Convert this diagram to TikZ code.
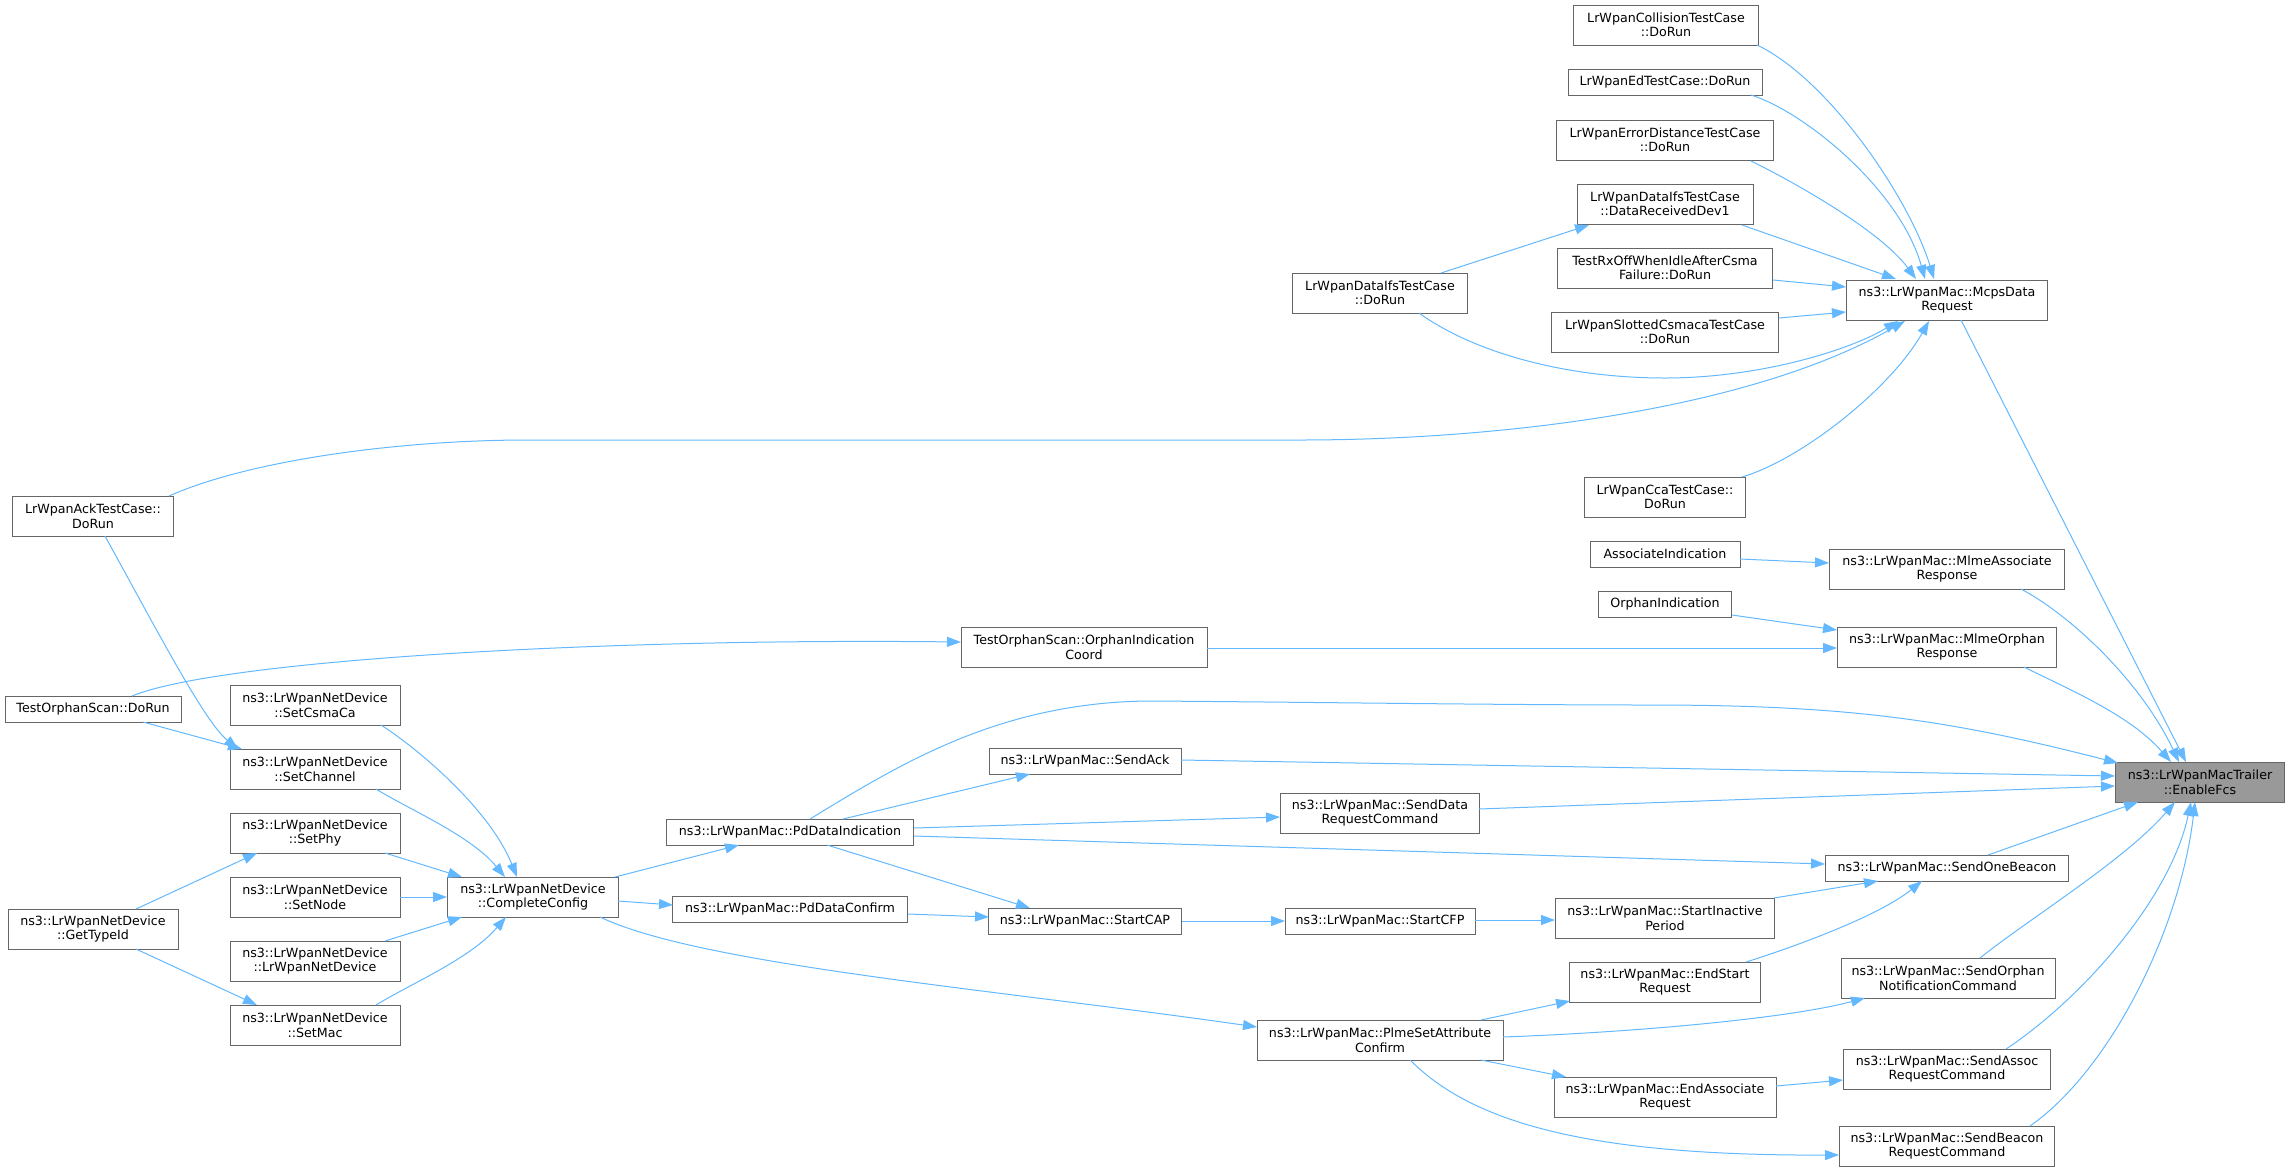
\documentclass[tikz,border=0pt]{standalone}
\usepackage{fontspec}
\newfontfamily\dvs{DejaVu Sans}
\usetikzlibrary{arrows.meta,calc}
\definecolor{edgeblue}{HTML}{63B8FF}
\definecolor{boxgray}{HTML}{666666}
\definecolor{rootfill}{HTML}{999999}
\begin{document}
\begin{tikzpicture}[x=0.75pt,y=-0.75pt,
  box/.style={draw=boxgray,fill=white,line width=0.75pt,align=center,inner sep=0pt,
    font=\dvs\fontsize{9.5}{10.9}\selectfont,minimum height=30pt},
  one/.style={minimum height=19.5pt},
  bw/.style={minimum width=#1*0.75pt},
  root/.style={fill=rootfill},
  cl/.style={draw=edgeblue,line width=0.75pt,-{Triangle[length=10.5pt,width=7.5pt]}}]
\useasboundingbox (0,0) rectangle (2291,1172);
% nodes
\node[box,bw=185] (col) at (1666,25) {LrWpanCollisionTestCase\\::DoRun};
\node[box,one,bw=194] (ed) at (1665,82) {LrWpanEdTestCase::DoRun};
\node[box,bw=217] (errd) at (1665,140) {LrWpanErrorDistanceTestCase\\::DoRun};
\node[box,bw=176] (drd) at (1665,204) {LrWpanDataIfsTestCase\\::DataReceivedDev1};
\node[box,bw=215] (rxoff) at (1665,268) {TestRxOffWhenIdleAfterCsma\\Failure::DoRun};
\node[box,bw=227] (slot) at (1665,332) {LrWpanSlottedCsmacaTestCase\\::DoRun};
\node[box,bw=175] (ifs) at (1380,293) {LrWpanDataIfsTestCase\\::DoRun};
\node[box,bw=201] (mcps) at (1947,300) {ns3::LrWpanMac::McpsData\\Request};
\node[box,bw=161] (cca) at (1665,497) {LrWpanCcaTestCase::\\DoRun};
\node[box,one,bw=150] (assoc) at (1665,554) {AssociateIndication};
\node[box,bw=235] (mlmeA) at (1947,569) {ns3::LrWpanMac::MlmeAssociate\\Response};
\node[box,one,bw=133] (orphI) at (1665,604) {OrphanIndication};
\node[box,bw=219] (mlmeO) at (1947,647) {ns3::LrWpanMac::MlmeOrphan\\Response};
\node[box,bw=246] (coord) at (1084,647) {TestOrphanScan::OrphanIndication\\Coord};
\node[box,bw=161] (ack) at (93,516) {LrWpanAckTestCase::\\DoRun};
\node[box,one,bw=176] (tosd) at (93,709) {TestOrphanScan::DoRun};
\node[box,bw=170] (csma) at (315,705) {ns3::LrWpanNetDevice\\::SetCsmaCa};
\node[box,bw=170] (chan) at (315,769) {ns3::LrWpanNetDevice\\::SetChannel};
\node[box,bw=170] (phy) at (315,833) {ns3::LrWpanNetDevice\\::SetPhy};
\node[box,bw=170] (nod) at (315,897) {ns3::LrWpanNetDevice\\::SetNode};
\node[box,bw=170] (lnd) at (315,961) {ns3::LrWpanNetDevice\\::LrWpanNetDevice};
\node[box,bw=170] (mac) at (315,1025) {ns3::LrWpanNetDevice\\::SetMac};
\node[box,bw=170] (gtid) at (93,929) {ns3::LrWpanNetDevice\\::GetTypeId};
\node[box,bw=171] (cc) at (533,897) {ns3::LrWpanNetDevice\\::CompleteConfig};
\node[box,one,bw=247] (pdi) at (790,832) {ns3::LrWpanMac::PdDataIndication};
\node[box,one,bw=235] (pdc) at (790,909) {ns3::LrWpanMac::PdDataConfirm};
\node[box,one,bw=192] (sack) at (1085,761) {ns3::LrWpanMac::SendAck};
\node[box,one,bw=193] (cap) at (1085,921) {ns3::LrWpanMac::StartCAP};
\node[box,bw=199] (sdr) at (1380,813) {ns3::LrWpanMac::SendData\\RequestCommand};
\node[box,root,bw=169] (fcs) at (2200,782) {ns3::LrWpanMacTrailer\\::EnableFcs};
\node[box,one,bw=243] (sob) at (1947,868) {ns3::LrWpanMac::SendOneBeacon};
\node[box,one,bw=190] (cfp) at (1380,921) {ns3::LrWpanMac::StartCFP};
\node[box,bw=219] (sip) at (1665,918) {ns3::LrWpanMac::StartInactive\\Period};
\node[box,bw=191] (esr) at (1665,982) {ns3::LrWpanMac::EndStart\\Request};
\node[box,bw=214] (son) at (1948,978) {ns3::LrWpanMac::SendOrphan\\NotificationCommand};
\node[box,bw=246] (plme) at (1380,1040) {ns3::LrWpanMac::PlmeSetAttribute\\Confirm};
\node[box,bw=207] (sar) at (1947,1069) {ns3::LrWpanMac::SendAssoc\\RequestCommand};
\node[box,bw=222] (ear) at (1665,1097) {ns3::LrWpanMac::EndAssociate\\Request};
\node[box,bw=215] (sbr) at (1947,1146) {ns3::LrWpanMac::SendBeacon\\RequestCommand};
% edges into McpsDataRequest
\draw[cl] ($(col)+(91,20)$) .. controls (1830,80) and (1910,200) .. ($(mcps)+(-13,-21)$);
\draw[cl] ($(ed)+(86,13)$) .. controls (1805,112) and (1900,190) .. ($(mcps)+(-22,-21)$);
\draw[cl] ($(errd)+(86,21)$) .. controls (1790,180) and (1880,230) .. ($(mcps)+(-31,-21)$);
\draw[cl] ($(drd)+(77,21)$) -- ($(mcps)+(-51,-21)$);
\draw[cl] ($(rxoff)+(108,12)$) -- ($(mcps)+(-101,-13)$);
\draw[cl] ($(slot)+(114,-14)$) -- ($(mcps)+(-101,12)$);
\draw[cl] ($(ifs)+(39,20)$) .. controls (1470,350) and (1560,378) .. (1665,378)
  .. controls (1760,378) and (1850,350) .. ($(mcps)+(-49,21)$);
\draw[cl] ($(ifs)+(61,-20)$) -- ($(drd)+(-76,21)$);
\draw[cl] ($(ack)+(76,-20)$) .. controls (250,460) and (400,440) .. (528,440) -- (1300,440)
  .. controls (1500,440) and (1750,410) .. ($(mcps)+(-42,21)$);
\draw[cl] ($(cca)+(77,-20)$) .. controls (1800,460) and (1890,390) .. ($(mcps)+(-18,21)$);
% Mlme
\draw[cl] ($(assoc)+(75,5)$) -- ($(mlmeA)+(-118,-6)$);
\draw[cl] ($(orphI)+(67,11)$) -- ($(mlmeO)+(-110,-17)$);
\draw[cl] ($(coord)+(123,1)$) -- ($(mlmeO)+(-110,1)$);
\draw[cl] ($(tosd)+(39,-13)$) .. controls (220,660) and (600,638) .. ($(coord)+(-123,-5)$);
% left columns
\draw[cl] ($(tosd)+(50,13)$) -- ($(chan)+(-73,-20)$);
\draw[cl] ($(ack)+(12,20)$) .. controls (160,636) and (205,722) .. ($(chan)+(-77,-20)$);
\draw[cl] ($(gtid)+(43,-20)$) -- ($(phy)+(-58,20)$);
\draw[cl] ($(gtid)+(43,20)$) -- ($(mac)+(-58,-20)$);
\draw[cl] ($(csma)+(66,20)$) .. controls (420,750) and (490,810) .. ($(cc)+(-16,-20)$);
\draw[cl] ($(chan)+(61,20)$) .. controls (410,810) and (470,835) .. ($(cc)+(-28,-20)$);
\draw[cl] ($(phy)+(70,20)$) -- ($(cc)+(-71,-20)$);
\draw[cl] ($(nod)+(85,0)$) -- ($(cc)+(-86,0)$);
\draw[cl] ($(lnd)+(70,-20)$) -- ($(cc)+(-71,20)$);
\draw[cl] ($(mac)+(61,-20)$) .. controls (410,984) and (470,959) .. ($(cc)+(-27,20)$);
% CompleteConfig and PdData
\draw[cl] ($(cc)+(82,-20)$) -- ($(pdi)+(-51,13)$);
\draw[cl] ($(cc)+(85,4)$) -- ($(pdc)+(-117,-4)$);
\draw[cl] ($(cc)+(67,20)$) .. controls (700,965) and (1000,990) .. ($(plme)+(-123,-13)$);
\draw[cl] ($(pdi)+(53,-13)$) -- ($(sack)+(-55,13)$);
\draw[cl] ($(pdi)+(37,13)$) -- ($(cap)+(-55,-13)$);
\draw[cl] ($(pdc)+(118,5)$) -- ($(cap)+(-96,-4)$);
\draw[cl] ($(pdi)+(124,-4)$) -- ($(sdr)+(-100,4)$);
\draw[cl] ($(pdi)+(124,4)$) -- ($(sob)+(-122,-4)$);
% Mac chain
\draw[cl] ($(cap)+(97,0)$) -- ($(cfp)+(-95,0)$);
\draw[cl] ($(cfp)+(95,-1)$) -- ($(sip)+(-110,2)$);
\draw[cl] ($(sip)+(109,-20)$) -- ($(sob)+(-69,13)$);
\draw[cl] ($(esr)+(81,-20)$) .. controls (1800,945) and (1880,915) .. ($(sob)+(-25,13)$);
\draw[cl] ($(plme)+(101,-20)$) -- ($(esr)+(-95,19)$);
\draw[cl] ($(plme)+(123,-3)$) .. controls (1640,1032) and (1790,1018) .. ($(son)+(-83,20)$);
\draw[cl] ($(plme)+(101,20)$) -- ($(ear)+(-99,-20)$);
\draw[cl] ($(plme)+(30,20)$) .. controls (1470,1120) and (1580,1156) .. ($(sbr)+(-108,9)$);
\draw[cl] ($(ear)+(111,-11)$) -- ($(sar)+(-104,11)$);
% into EnableFcs
\draw[cl] ($(mcps)+(14,20)$) -- ($(fcs)+(-14,-20)$);
\draw[cl] ($(mlmeA)+(74,20)$) .. controls (2070,615) and (2140,680) .. ($(fcs)+(-21,-20)$);
\draw[cl] ($(mlmeO)+(77,20)$) .. controls (2070,690) and (2130,715) .. ($(fcs)+(-29,-20)$);
\draw[cl] ($(pdi)+(20,-13)$) .. controls (900,764) and (1000,702) .. (1150,701)
  .. controls (1300,702) and (1500,705) .. (1650,705)
  .. controls (1850,705) and (1950,720) .. ($(fcs)+(-82,-19)$);
\draw[cl] ($(sack)+(96,-1)$) -- ($(fcs)+(-85,-6)$);
\draw[cl] ($(sdr)+(99,-4)$) -- ($(fcs)+(-85,4)$);
\draw[cl] ($(sob)+(41,-13)$) -- ($(fcs)+(-62,20)$);
\draw[cl] ($(son)+(32,-20)$) .. controls (2030,918) and (2125,860) .. ($(fcs)+(-25,20)$);
\draw[cl] ($(sar)+(59,-20)$) .. controls (2080,1000) and (2170,900) .. ($(fcs)+(-9,20)$);
\draw[cl] ($(sbr)+(83,-20)$) .. controls (2110,1070) and (2180,930) .. ($(fcs)+(-5,20)$);
\end{tikzpicture}
\end{document}
